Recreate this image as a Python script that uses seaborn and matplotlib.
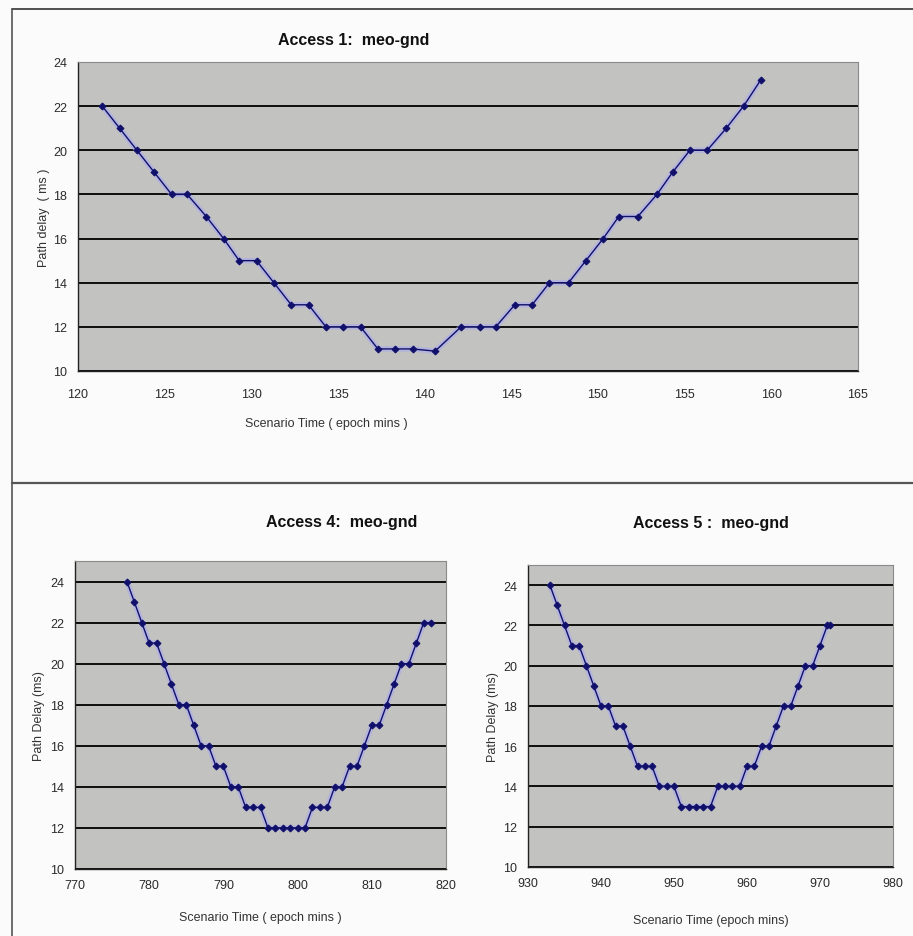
import pandas as pd
import matplotlib.pyplot as plt
import seaborn as sns
from matplotlib.lines import Line2D

# Access 1 (meo-gnd)
t1 = [121.4, 122.4, 123.4, 124.4, 125.4, 126.3, 127.4, 128.4, 129.3, 130.3,
      131.3, 132.3, 133.3, 134.3, 135.3, 136.3, 137.3, 138.3, 139.3, 140.6,
      142.1, 143.2, 144.1, 145.2, 146.2, 147.2, 148.3, 149.3, 150.3, 151.2,
      152.3, 153.4, 154.3, 155.3, 156.3, 157.4, 158.4, 159.4]
d1 = [22, 21, 20, 19, 18, 18, 17, 16, 15, 15,
      14, 13, 13, 12, 12, 12, 11, 11, 11, 10.9,
      12, 12, 12, 13, 13, 14, 14, 15, 16, 17,
      17, 18, 19, 20, 20, 21, 22, 23.2]

# Access 4 (meo-gnd)
t4 = list(range(777, 819))
d4 = [24, 23, 22, 21, 21, 20, 19, 18, 18, 17,
      16, 16, 15, 15, 14, 14, 13, 13, 13, 12,
      12, 12, 12, 12, 12, 13, 13, 13, 14, 14,
      15, 15, 16, 17, 17, 18, 19, 20, 20, 21,
      22, 22]

# Access 5 (meo-gnd)
t5 = list(range(933, 972)) + [971.4]
d5 = [24, 23, 22, 21, 21, 20, 19, 18, 18, 17,
      17, 16, 15, 15, 15, 14, 14, 14, 13, 13,
      13, 13, 13, 14, 14, 14, 14, 15, 15, 16,
      16, 17, 18, 18, 19, 20, 20, 21, 22, 22]

yticks = [10, 12, 14, 16, 18, 20, 22, 24]

sns.set_style('white')
plt.rcParams['font.family'] = ['Liberation Sans Narrow', 'Liberation Sans', 'DejaVu Sans']

W, H = 913, 937
fig = plt.figure(figsize=(W / 100, H / 100), dpi=100, facecolor='#fafbfa')


def axes_px(left, top, right, bottom):
    return fig.add_axes([left / W, 1 - bottom / H, (right - left) / W, (bottom - top) / H])


def draw(ax, t, d, title, title_x, title_pad, xlabel, ylabel, xlim, ylim, xticks):
    df = pd.DataFrame({'t': t, 'd': d})
    ax.set_facecolor('#c2c2c0')
    sns.lineplot(data=df, x='t', y='d', ax=ax, color='#aaaaee', lw=4, alpha=0.6, legend=False)
    sns.lineplot(data=df, x='t', y='d', ax=ax, color='#10106a', lw=1.0,
                 marker='D', markersize=3.5, markeredgecolor='#10106a', legend=False)
    ax.set_xlim(xlim)
    ax.set_ylim(ylim)
    ax.set_xticks(xticks)
    ax.set_yticks(yticks)
    ax.yaxis.grid(True, color='black', lw=1.3)
    ax.xaxis.grid(False)
    ax.set_axisbelow(True)
    for s in ['top', 'right']:
        ax.spines[s].set_color('#8a8a8a')
        ax.spines[s].set_linewidth(0.8)
    for s in ['left', 'bottom']:
        ax.spines[s].set_color('#222222')
        ax.spines[s].set_linewidth(1.0)
    ax.tick_params(axis='both', direction='out', length=4, width=0.8, color='#222222',
                   labelsize=9, labelcolor='#2a2a2a', pad=4)
    ax.set_title(title, x=title_x, pad=title_pad, fontsize=11.5, fontweight='bold', color='#111111')
    ax.set_xlabel(xlabel, fontsize=9, color='#333333')
    ax.set_ylabel(ylabel, fontsize=9, color='#333333')


ax1 = axes_px(78, 63, 858, 372)
draw(ax1, t1, d1, 'Access 1:  meo-gnd', 0.354, 13, 'Scenario Time ( epoch mins )',
     'Path delay  ( ms )', (120, 165), (10, 24), list(range(120, 166, 5)))
ax1.tick_params(axis='x', pad=8)
ax1.xaxis.set_label_coords(0.318, -0.15)
ax1.yaxis.set_label_coords(-0.036, 0.5)

ax4 = axes_px(75, 562, 446, 870)
draw(ax4, t4, d4, 'Access 4:  meo-gnd', 0.72, 25, 'Scenario Time ( epoch mins )',
     'Path Delay (ms)', (770, 820), (10, 25), list(range(770, 821, 10)))
ax4.tick_params(axis='x', pad=3)
ax4.xaxis.set_label_coords(0.5, -0.135)
ax4.yaxis.set_label_coords(-0.08, 0.5)

ax5 = axes_px(528, 566, 893, 868)
draw(ax5, t5, d5, 'Access 5 :  meo-gnd', 0.5, 27, 'Scenario Time (epoch mins)',
     'Path Delay (ms)', (930, 980), (10, 25), list(range(930, 981, 10)))
ax5.tick_params(axis='x', pad=3)
ax5.xaxis.set_label_coords(0.5, -0.155)
ax5.yaxis.set_label_coords(-0.08, 0.5)

# outer frame lines of the screenshot panels
fx = 12 / W
fig.add_artist(Line2D([fx, 1], [1 - 10 / H, 1 - 10 / H], transform=fig.transFigure, color='#333333', lw=1.2))
fig.add_artist(Line2D([fx, fx], [1 - 10 / H, 0], transform=fig.transFigure, color='#555555', lw=1.2))
fig.add_artist(Line2D([fx, 1], [1 - 484 / H, 1 - 484 / H], transform=fig.transFigure, color='#555555', lw=1.6))

plt.savefig('out.png', dpi=100, facecolor=fig.get_facecolor())
